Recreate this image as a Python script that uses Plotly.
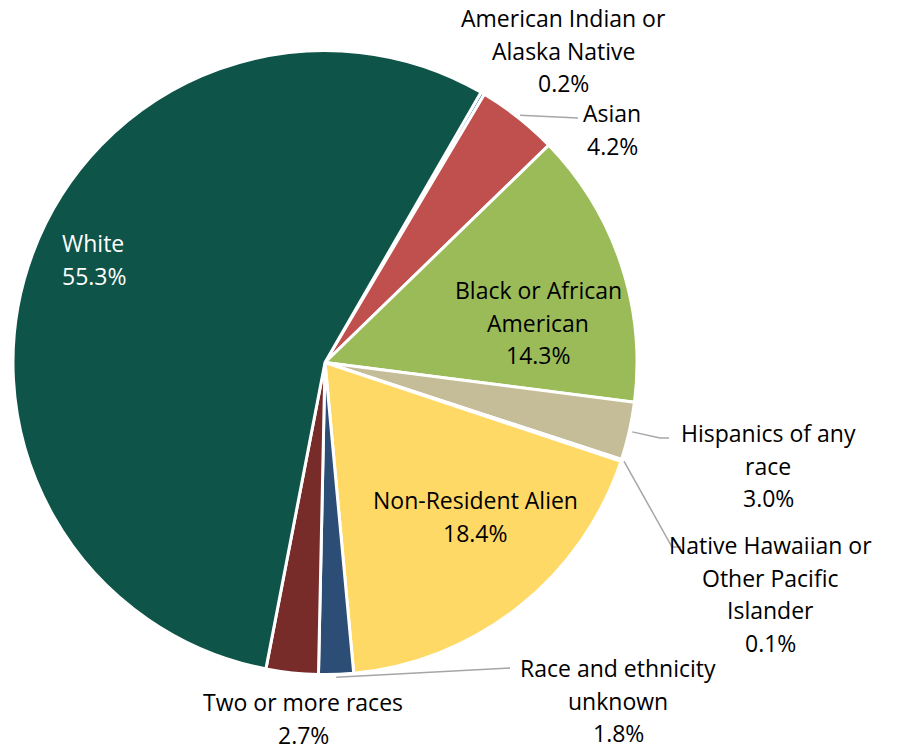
import math
import plotly.graph_objects as go

# ---- data ----
categories = [
    "American Indian or Alaska Native",
    "Asian",
    "Black or African American",
    "Hispanics of any race",
    "Native Hawaiian or Other Pacific Islander",
    "Non-Resident Alien",
    "Race and ethnicity unknown",
    "Two or more races",
    "White",
]
values = [0.2, 4.2, 14.3, 3.0, 0.1, 18.4, 1.8, 2.7, 55.3]
label_lines = [
    ["American Indian or", "Alaska Native"],
    ["Asian"],
    ["Black or African", "American"],
    ["Hispanics of any", "race"],
    ["Native Hawaiian or", "Other Pacific", "Islander"],
    ["Non-Resident Alien"],
    ["Race and ethnicity", "unknown"],
    ["Two or more races"],
    ["White"],
]
colors = ["#4F81BD", "#C0504D", "#9BBB59", "#C4BD97", "#F79646",
          "#FFD966", "#2C4D75", "#772C2A", "#0E5448"]

# ---- layout constants (pixels) ----
W, H = 901, 752
CX, CY, R = 325.0, 362.5, 312.0
ROT = 30.0
FONT = "Open Sans"
FS = 23
LINE_H = 32.5

def px(x):
    return x / W

def py(y):
    return 1 - y / H

total = sum(values)
mid_angles = []
acc = 0.0
for v in values:
    mid_angles.append(ROT + (acc + v / 2) / total * 360.0)
    acc += v

def edge_point(i, r):
    a = math.radians(mid_angles[i])
    return CX + r * math.sin(a), CY - r * math.cos(a)

fig = go.Figure(go.Pie(
    labels=categories,
    values=values,
    sort=False,
    direction="clockwise",
    rotation=ROT,
    marker=dict(colors=colors, line=dict(color="white", width=3)),
    textinfo="none",
    hoverinfo="label+percent",
    domain=dict(x=[px(CX - R), px(CX + R)], y=[py(CY + R), py(CY - R)]),
))

# label placement: (index, anchor x px, first line y px, xanchor, color)
placements = [
    (0, 563, 18, "center", "#000000"),
    (1, 612, 113, "center", "#000000"),
    (2, 538, 290, "center", "#000000"),
    (3, 768, 433, "center", "#000000"),
    (4, 770, 545, "center", "#000000"),
    (5, 475, 500, "center", "#000000"),
    (6, 618, 668, "center", "#000000"),
    (7, 303, 702, "center", "#000000"),
    (8, 61, 243, "left", "#FFFFFF"),
]

annotations = []
for idx, x0, y0, xa, col in placements:
    lines = label_lines[idx] + [f"{values[idx]:.1f}%"]
    for k, t in enumerate(lines):
        annotations.append(dict(
            x=px(x0), y=py(y0 + k * LINE_H), xref="paper", yref="paper",
            text=t, showarrow=False, xanchor=xa, yanchor="middle",
            borderpad=0,
            font=dict(family=FONT, size=FS, color=col),
        ))

# leader lines: start at slice edge (from data), end near label
leaders = [
    (1, [(578, 118)]),
    (3, [(660, 438), (669, 438)]),
    (4, [(672, 547), (681, 547)]),
    (6, [(510, 668)]),
]
shapes = []
for idx, pts in leaders:
    sx, sy = edge_point(idx, R + 3)
    path = f"M {px(sx)},{py(sy)}"
    for (x, y) in pts:
        path += f" L {px(x)},{py(y)}"
    shapes.append(dict(type="path", xref="paper", yref="paper", path=path,
                       line=dict(color="#A6A6A6", width=1.5)))

fig.update_layout(
    width=W, height=H,
    margin=dict(l=0, r=0, t=0, b=0),
    showlegend=False,
    paper_bgcolor="white",
    annotations=annotations,
    shapes=shapes,
)

fig.write_html("out.html", config={"displayModeBar": False},
               post_script="document.body.style.margin='0';")
